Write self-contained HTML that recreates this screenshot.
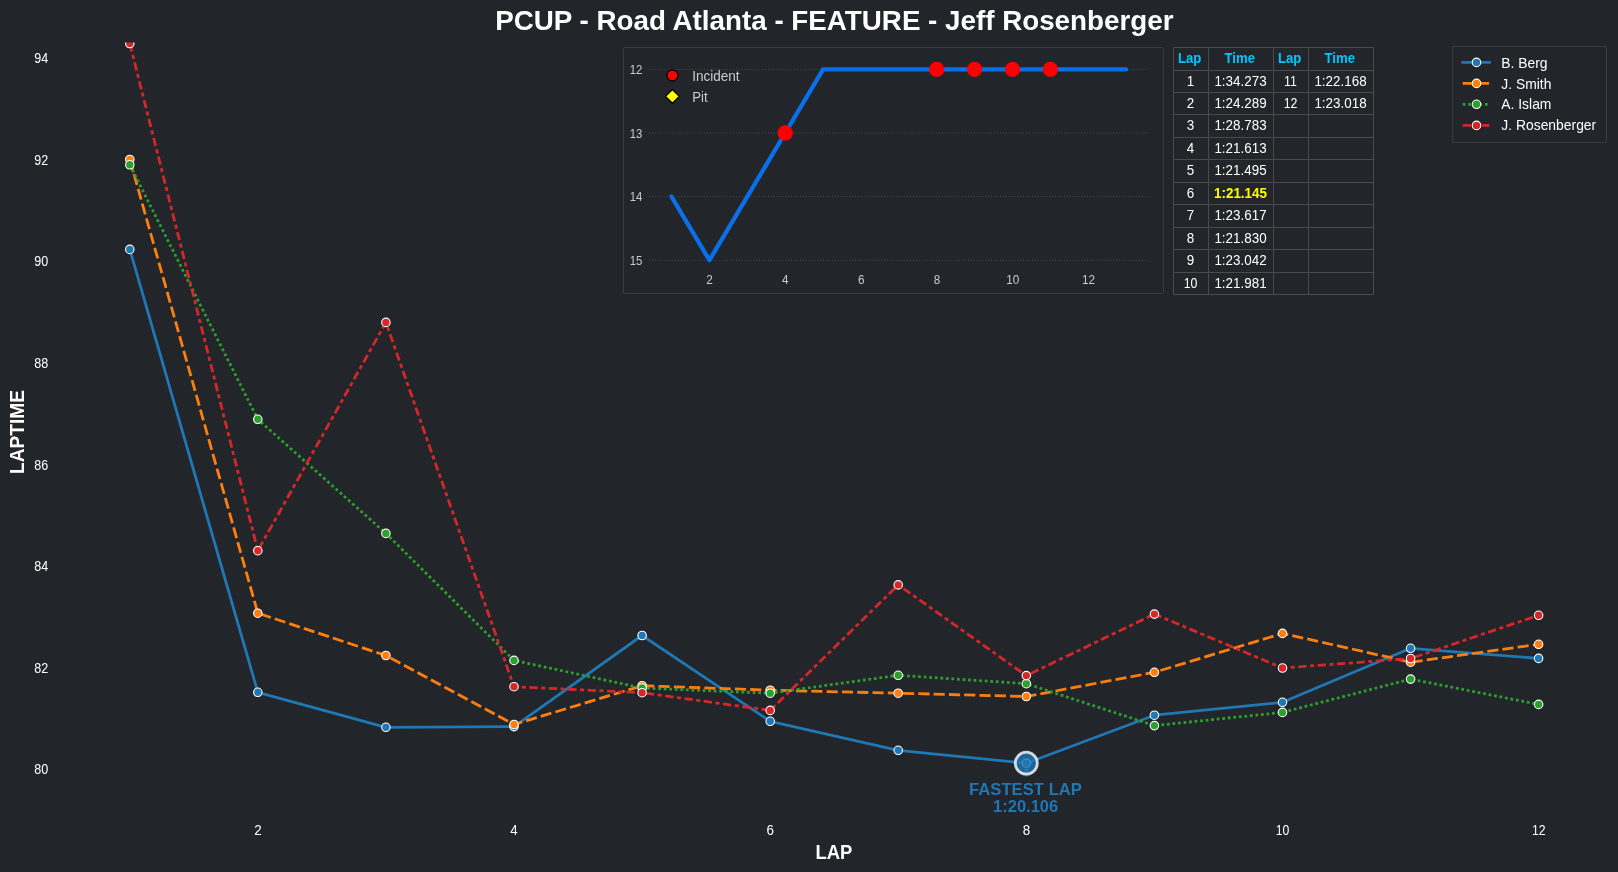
<!DOCTYPE html>
<html><head><meta charset="utf-8"><title>PCUP - Road Atlanta - FEATURE - Jeff Rosenberger</title>
<style>
html,body{margin:0;padding:0;background:#22252a;}
body{width:1618px;height:872px;overflow:hidden;font-family:"Liberation Sans",sans-serif;}
svg{display:block;will-change:transform;}
text{font-family:"Liberation Sans",sans-serif;}
</style></head><body>
<svg width="1618" height="872" viewBox="0 0 1618 872">
<rect x="0" y="0" width="1618" height="872" fill="#22252a"/>
<defs><clipPath id="ax"><rect x="59" y="42.6" width="1549.7" height="776.8"/></clipPath></defs>

<text transform="translate(834.30,30.00)" font-size="27.78" text-anchor="middle" fill="#ffffff" font-weight="bold">PCUP - Road Atlanta - FEATURE - Jeff Rosenberger</text>
<text transform="translate(833.90,859.00) scale(0.950,1.000)" font-size="19.44" text-anchor="middle" fill="#ffffff" font-weight="bold">LAP</text>
<text transform="translate(24.30,432.00) rotate(-90) scale(0.984,1.000)" font-size="19.44" text-anchor="middle" fill="#ffffff" font-weight="bold">LAPTIME</text>
<text transform="translate(48.20,774.00) scale(0.905,1.120)" font-size="13.89" text-anchor="end" fill="#ffffff">80</text>
<text transform="translate(48.20,673.00) scale(0.905,1.120)" font-size="13.89" text-anchor="end" fill="#ffffff">82</text>
<text transform="translate(48.20,571.00) scale(0.905,1.120)" font-size="13.89" text-anchor="end" fill="#ffffff">84</text>
<text transform="translate(48.20,470.00) scale(0.905,1.120)" font-size="13.89" text-anchor="end" fill="#ffffff">86</text>
<text transform="translate(48.20,368.00) scale(0.905,1.120)" font-size="13.89" text-anchor="end" fill="#ffffff">88</text>
<text transform="translate(48.20,266.00) scale(0.905,1.120)" font-size="13.89" text-anchor="end" fill="#ffffff">90</text>
<text transform="translate(48.20,165.00) scale(0.905,1.120)" font-size="13.89" text-anchor="end" fill="#ffffff">92</text>
<text transform="translate(48.20,63.00) scale(0.905,1.120)" font-size="13.89" text-anchor="end" fill="#ffffff">94</text>
<text transform="translate(257.93,835.00) scale(0.965,1.120)" font-size="13.89" text-anchor="middle" fill="#ffffff">2</text>
<text transform="translate(514.09,835.00) scale(0.965,1.120)" font-size="13.89" text-anchor="middle" fill="#ffffff">4</text>
<text transform="translate(770.25,835.00) scale(0.965,1.120)" font-size="13.89" text-anchor="middle" fill="#ffffff">6</text>
<text transform="translate(1026.41,835.00) scale(0.965,1.120)" font-size="13.89" text-anchor="middle" fill="#ffffff">8</text>
<text transform="translate(1282.57,835.00) scale(0.880,1.120)" font-size="13.89" text-anchor="middle" fill="#ffffff">10</text>
<text transform="translate(1538.73,835.00) scale(0.880,1.120)" font-size="13.89" text-anchor="middle" fill="#ffffff">12</text>
<g clip-path="url(#ax)">
<polyline points="129.8,249.4 257.8,692.3 385.9,727.3 514.0,726.6 642.1,635.5 770.2,721.3 898.2,750.3 1026.3,763.2 1154.4,715.2 1282.5,702.3 1410.6,648.3 1538.6,658.4" fill="none" stroke="#1f77b4" stroke-width="2.78" stroke-linejoin="round" stroke-linecap="square"/>
<circle cx="129.8" cy="249.4" r="4.25" fill="#1f77b4" stroke="#ffffff" stroke-width="1.10"/>
<circle cx="257.8" cy="692.3" r="4.25" fill="#1f77b4" stroke="#ffffff" stroke-width="1.10"/>
<circle cx="385.9" cy="727.3" r="4.25" fill="#1f77b4" stroke="#ffffff" stroke-width="1.10"/>
<circle cx="514.0" cy="726.6" r="4.25" fill="#1f77b4" stroke="#ffffff" stroke-width="1.10"/>
<circle cx="642.1" cy="635.5" r="4.25" fill="#1f77b4" stroke="#ffffff" stroke-width="1.10"/>
<circle cx="770.2" cy="721.3" r="4.25" fill="#1f77b4" stroke="#ffffff" stroke-width="1.10"/>
<circle cx="898.2" cy="750.3" r="4.25" fill="#1f77b4" stroke="#ffffff" stroke-width="1.10"/>
<circle cx="1026.3" cy="763.2" r="4.25" fill="#1f77b4" stroke="#ffffff" stroke-width="1.10"/>
<circle cx="1154.4" cy="715.2" r="4.25" fill="#1f77b4" stroke="#ffffff" stroke-width="1.10"/>
<circle cx="1282.5" cy="702.3" r="4.25" fill="#1f77b4" stroke="#ffffff" stroke-width="1.10"/>
<circle cx="1410.6" cy="648.3" r="4.25" fill="#1f77b4" stroke="#ffffff" stroke-width="1.10"/>
<circle cx="1538.6" cy="658.4" r="4.25" fill="#1f77b4" stroke="#ffffff" stroke-width="1.10"/>
<polyline points="129.8,159.5 257.8,613.2 385.9,655.5 514.0,724.5 642.1,685.7 770.2,690.2 898.2,693.2 1026.3,696.5 1154.4,672.3 1282.5,633.4 1410.6,662.2 1538.6,644.3" fill="none" stroke="#ff7f0e" stroke-width="2.78" stroke-linejoin="round" stroke-dasharray="11.12,4.17"/>
<circle cx="129.8" cy="159.5" r="4.25" fill="#ff7f0e" stroke="#ffffff" stroke-width="1.10"/>
<circle cx="257.8" cy="613.2" r="4.25" fill="#ff7f0e" stroke="#ffffff" stroke-width="1.10"/>
<circle cx="385.9" cy="655.5" r="4.25" fill="#ff7f0e" stroke="#ffffff" stroke-width="1.10"/>
<circle cx="514.0" cy="724.5" r="4.25" fill="#ff7f0e" stroke="#ffffff" stroke-width="1.10"/>
<circle cx="642.1" cy="685.7" r="4.25" fill="#ff7f0e" stroke="#ffffff" stroke-width="1.10"/>
<circle cx="770.2" cy="690.2" r="4.25" fill="#ff7f0e" stroke="#ffffff" stroke-width="1.10"/>
<circle cx="898.2" cy="693.2" r="4.25" fill="#ff7f0e" stroke="#ffffff" stroke-width="1.10"/>
<circle cx="1026.3" cy="696.5" r="4.25" fill="#ff7f0e" stroke="#ffffff" stroke-width="1.10"/>
<circle cx="1154.4" cy="672.3" r="4.25" fill="#ff7f0e" stroke="#ffffff" stroke-width="1.10"/>
<circle cx="1282.5" cy="633.4" r="4.25" fill="#ff7f0e" stroke="#ffffff" stroke-width="1.10"/>
<circle cx="1410.6" cy="662.2" r="4.25" fill="#ff7f0e" stroke="#ffffff" stroke-width="1.10"/>
<circle cx="1538.6" cy="644.3" r="4.25" fill="#ff7f0e" stroke="#ffffff" stroke-width="1.10"/>
<polyline points="129.8,164.8 257.8,419.3 385.9,533.4 514.0,660.4 642.1,688.0 770.2,693.2 898.2,675.3 1026.3,683.7 1154.4,725.6 1282.5,712.4 1410.6,679.1 1538.6,704.4" fill="none" stroke="#2ca02c" stroke-width="2.78" stroke-linejoin="round" stroke-dasharray="2.78,2.78"/>
<circle cx="129.8" cy="164.8" r="4.25" fill="#2ca02c" stroke="#ffffff" stroke-width="1.10"/>
<circle cx="257.8" cy="419.3" r="4.25" fill="#2ca02c" stroke="#ffffff" stroke-width="1.10"/>
<circle cx="385.9" cy="533.4" r="4.25" fill="#2ca02c" stroke="#ffffff" stroke-width="1.10"/>
<circle cx="514.0" cy="660.4" r="4.25" fill="#2ca02c" stroke="#ffffff" stroke-width="1.10"/>
<circle cx="642.1" cy="688.0" r="4.25" fill="#2ca02c" stroke="#ffffff" stroke-width="1.10"/>
<circle cx="770.2" cy="693.2" r="4.25" fill="#2ca02c" stroke="#ffffff" stroke-width="1.10"/>
<circle cx="898.2" cy="675.3" r="4.25" fill="#2ca02c" stroke="#ffffff" stroke-width="1.10"/>
<circle cx="1026.3" cy="683.7" r="4.25" fill="#2ca02c" stroke="#ffffff" stroke-width="1.10"/>
<circle cx="1154.4" cy="725.6" r="4.25" fill="#2ca02c" stroke="#ffffff" stroke-width="1.10"/>
<circle cx="1282.5" cy="712.4" r="4.25" fill="#2ca02c" stroke="#ffffff" stroke-width="1.10"/>
<circle cx="1410.6" cy="679.1" r="4.25" fill="#2ca02c" stroke="#ffffff" stroke-width="1.10"/>
<circle cx="1538.6" cy="704.4" r="4.25" fill="#2ca02c" stroke="#ffffff" stroke-width="1.10"/>
<polyline points="129.8,43.5 257.8,550.7 385.9,322.4 514.0,686.7 642.1,692.7 770.2,710.4 898.2,584.9 1026.3,675.6 1154.4,614.1 1282.5,668.0 1410.6,658.5 1538.6,615.3" fill="none" stroke="#d62728" stroke-width="2.78" stroke-linejoin="round" stroke-dasharray="8.34,3.47,4.17,3.47"/>
<circle cx="129.8" cy="43.5" r="4.25" fill="#d62728" stroke="#ffffff" stroke-width="1.10"/>
<circle cx="257.8" cy="550.7" r="4.25" fill="#d62728" stroke="#ffffff" stroke-width="1.10"/>
<circle cx="385.9" cy="322.4" r="4.25" fill="#d62728" stroke="#ffffff" stroke-width="1.10"/>
<circle cx="514.0" cy="686.7" r="4.25" fill="#d62728" stroke="#ffffff" stroke-width="1.10"/>
<circle cx="642.1" cy="692.7" r="4.25" fill="#d62728" stroke="#ffffff" stroke-width="1.10"/>
<circle cx="770.2" cy="710.4" r="4.25" fill="#d62728" stroke="#ffffff" stroke-width="1.10"/>
<circle cx="898.2" cy="584.9" r="4.25" fill="#d62728" stroke="#ffffff" stroke-width="1.10"/>
<circle cx="1026.3" cy="675.6" r="4.25" fill="#d62728" stroke="#ffffff" stroke-width="1.10"/>
<circle cx="1154.4" cy="614.1" r="4.25" fill="#d62728" stroke="#ffffff" stroke-width="1.10"/>
<circle cx="1282.5" cy="668.0" r="4.25" fill="#d62728" stroke="#ffffff" stroke-width="1.10"/>
<circle cx="1410.6" cy="658.5" r="4.25" fill="#d62728" stroke="#ffffff" stroke-width="1.10"/>
<circle cx="1538.6" cy="615.3" r="4.25" fill="#d62728" stroke="#ffffff" stroke-width="1.10"/>
<path d="M1026.3 776.7 L1026.3 770.2" stroke="#1f77b4" stroke-width="1.4" fill="none"/>
<path d="M1026.3 766.4 l-2.5 5.2 h5 z" fill="#1f77b4"/>
<circle cx="1026.3" cy="763.2" r="11" fill="#1f77b4" fill-opacity="0.8" stroke="#ffffff" stroke-opacity="0.8" stroke-width="2.8"/>
</g>
<text transform="translate(1025.50,795.00)" font-size="16.67" text-anchor="middle" fill="#1f77b4" font-weight="bold">FASTEST LAP</text>
<text transform="translate(1025.60,812.30) scale(0.990,1.000)" font-size="16.67" text-anchor="middle" fill="#1f77b4" font-weight="bold">1:20.106</text>
<rect x="1452.5" y="46.5" width="154" height="96" fill="#22252a" stroke="#393d40" stroke-width="1" rx="1.5"/>
<line x1="1462.7" y1="62.4" x2="1489.4" y2="62.4" stroke="#1f77b4" stroke-width="2.78" stroke-linecap="square"/>
<circle cx="1476.5" cy="62.4" r="4.25" fill="#1f77b4" stroke="#ffffff" stroke-width="1.10"/>
<text transform="translate(1501.30,68.00) scale(1.000,1.120)" font-size="13.89" text-anchor="start" fill="#ffffff">B. Berg</text>
<line x1="1462.7" y1="83.4" x2="1489.4" y2="83.4" stroke="#ff7f0e" stroke-width="2.78" stroke-dasharray="11.12,4.17"/>
<circle cx="1476.5" cy="83.4" r="4.25" fill="#ff7f0e" stroke="#ffffff" stroke-width="1.10"/>
<text transform="translate(1501.30,88.90) scale(1.000,1.120)" font-size="13.89" text-anchor="start" fill="#ffffff">J. Smith</text>
<line x1="1462.7" y1="104.3" x2="1489.4" y2="104.3" stroke="#2ca02c" stroke-width="2.78" stroke-dasharray="2.78,2.78"/>
<circle cx="1476.5" cy="104.3" r="4.25" fill="#2ca02c" stroke="#ffffff" stroke-width="1.10"/>
<text transform="translate(1501.30,109.20) scale(1.000,1.120)" font-size="13.89" text-anchor="start" fill="#ffffff">A. Islam</text>
<line x1="1462.7" y1="125.4" x2="1489.4" y2="125.4" stroke="#d62728" stroke-width="2.78" stroke-dasharray="8.34,3.47,4.17,3.47"/>
<circle cx="1476.5" cy="125.4" r="4.25" fill="#d62728" stroke="#ffffff" stroke-width="1.10"/>
<text transform="translate(1501.30,130.30) scale(1.000,1.120)" font-size="13.89" text-anchor="start" fill="#ffffff">J. Rosenberger</text>
<rect x="623.5" y="47.5" width="540" height="246" fill="#22252a" stroke="#393d40" stroke-width="1" rx="1.5"/>
<line x1="649" y1="69.4" x2="1148.5" y2="69.4" stroke="#45484d" stroke-width="1" stroke-dasharray="1.1,1.8"/>
<text transform="translate(642.30,73.90) scale(0.930,1.030)" font-size="12.20" text-anchor="end" fill="#cccccc">12</text>
<line x1="649" y1="133.0" x2="1148.5" y2="133.0" stroke="#45484d" stroke-width="1" stroke-dasharray="1.1,1.8"/>
<text transform="translate(642.30,137.50) scale(0.930,1.030)" font-size="12.20" text-anchor="end" fill="#cccccc">13</text>
<line x1="649" y1="196.6" x2="1148.5" y2="196.6" stroke="#45484d" stroke-width="1" stroke-dasharray="1.1,1.8"/>
<text transform="translate(642.30,201.10) scale(0.930,1.030)" font-size="12.20" text-anchor="end" fill="#cccccc">14</text>
<line x1="649" y1="260.2" x2="1148.5" y2="260.2" stroke="#45484d" stroke-width="1" stroke-dasharray="1.1,1.8"/>
<text transform="translate(642.30,264.70) scale(0.930,1.030)" font-size="12.20" text-anchor="end" fill="#cccccc">15</text>
<text transform="translate(709.59,284.00) scale(0.960,1.030)" font-size="12.20" text-anchor="middle" fill="#cccccc">2</text>
<text transform="translate(785.37,284.00) scale(0.960,1.030)" font-size="12.20" text-anchor="middle" fill="#cccccc">4</text>
<text transform="translate(861.15,284.00) scale(0.960,1.030)" font-size="12.20" text-anchor="middle" fill="#cccccc">6</text>
<text transform="translate(936.93,284.00) scale(0.960,1.030)" font-size="12.20" text-anchor="middle" fill="#cccccc">8</text>
<text transform="translate(1012.71,284.00) scale(0.960,1.030)" font-size="12.20" text-anchor="middle" fill="#cccccc">10</text>
<text transform="translate(1088.49,284.00) scale(0.960,1.030)" font-size="12.20" text-anchor="middle" fill="#cccccc">12</text>
<polyline points="671.5,196.6 709.4,260.2 747.3,196.6 785.2,133.0 823.1,69.4 861.0,69.4 898.8,69.4 936.7,69.4 974.6,69.4 1012.5,69.4 1050.4,69.4 1088.3,69.4 1126.2,69.4" fill="none" stroke="#0a6fe8" stroke-width="4.3" stroke-linejoin="round" stroke-linecap="round"/>
<circle cx="785.2" cy="133.0" r="7.7" fill="#ff0000"/>
<circle cx="936.7" cy="69.4" r="7.7" fill="#ff0000"/>
<circle cx="974.6" cy="69.4" r="7.7" fill="#ff0000"/>
<circle cx="1012.5" cy="69.4" r="7.7" fill="#ff0000"/>
<circle cx="1050.4" cy="69.4" r="7.7" fill="#ff0000"/>
<circle cx="672.4" cy="75.5" r="5.5" fill="#ff0000" stroke="#000000" stroke-width="1.3"/>
<path d="M672.4 89.5 l6.9 6.9 l-6.9 6.9 l-6.9 -6.9 z" fill="#ffff00" stroke="#000000" stroke-width="1.3" stroke-linejoin="miter"/>
<text transform="translate(692.20,81.00) scale(0.975,1.120)" font-size="13.89" text-anchor="start" fill="#cccccc">Incident</text>
<text transform="translate(692.20,101.90) scale(0.950,1.120)" font-size="13.89" text-anchor="start" fill="#cccccc">Pit</text>
<line x1="1173.5" y1="47.5" x2="1173.5" y2="294.5" stroke="#4a4a4a" stroke-width="1"/>
<line x1="1208.5" y1="47.5" x2="1208.5" y2="294.5" stroke="#4a4a4a" stroke-width="1"/>
<line x1="1273.5" y1="47.5" x2="1273.5" y2="294.5" stroke="#4a4a4a" stroke-width="1"/>
<line x1="1308.5" y1="47.5" x2="1308.5" y2="294.5" stroke="#4a4a4a" stroke-width="1"/>
<line x1="1373.5" y1="47.5" x2="1373.5" y2="294.5" stroke="#4a4a4a" stroke-width="1"/>
<line x1="1173.5" y1="47.5" x2="1373.5" y2="47.5" stroke="#4a4a4a" stroke-width="1"/>
<line x1="1173.5" y1="70.5" x2="1373.5" y2="70.5" stroke="#4a4a4a" stroke-width="1"/>
<line x1="1173.5" y1="92.5" x2="1373.5" y2="92.5" stroke="#4a4a4a" stroke-width="1"/>
<line x1="1173.5" y1="114.5" x2="1373.5" y2="114.5" stroke="#4a4a4a" stroke-width="1"/>
<line x1="1173.5" y1="137.5" x2="1373.5" y2="137.5" stroke="#4a4a4a" stroke-width="1"/>
<line x1="1173.5" y1="159.5" x2="1373.5" y2="159.5" stroke="#4a4a4a" stroke-width="1"/>
<line x1="1173.5" y1="182.5" x2="1373.5" y2="182.5" stroke="#4a4a4a" stroke-width="1"/>
<line x1="1173.5" y1="204.5" x2="1373.5" y2="204.5" stroke="#4a4a4a" stroke-width="1"/>
<line x1="1173.5" y1="227.5" x2="1373.5" y2="227.5" stroke="#4a4a4a" stroke-width="1"/>
<line x1="1173.5" y1="249.5" x2="1373.5" y2="249.5" stroke="#4a4a4a" stroke-width="1"/>
<line x1="1173.5" y1="272.5" x2="1373.5" y2="272.5" stroke="#4a4a4a" stroke-width="1"/>
<line x1="1173.5" y1="294.5" x2="1373.5" y2="294.5" stroke="#4a4a4a" stroke-width="1"/>
<text transform="translate(1189.70,62.50) scale(0.950,1.120)" font-size="13.89" text-anchor="middle" fill="#00c8ff" font-weight="bold">Lap</text>
<text transform="translate(1239.70,62.50) scale(0.950,1.120)" font-size="13.89" text-anchor="middle" fill="#00c8ff" font-weight="bold">Time</text>
<text transform="translate(1289.70,62.50) scale(0.950,1.120)" font-size="13.89" text-anchor="middle" fill="#00c8ff" font-weight="bold">Lap</text>
<text transform="translate(1339.70,62.50) scale(0.950,1.120)" font-size="13.89" text-anchor="middle" fill="#00c8ff" font-weight="bold">Time</text>
<text transform="translate(1190.50,85.50) scale(0.965,1.120)" font-size="13.89" text-anchor="middle" fill="#ffffff">1</text>
<text transform="translate(1240.50,85.50) scale(0.965,1.120)" font-size="13.89" text-anchor="middle" fill="#ffffff">1:34.273</text>
<text transform="translate(1190.50,107.50) scale(0.965,1.120)" font-size="13.89" text-anchor="middle" fill="#ffffff">2</text>
<text transform="translate(1240.50,107.50) scale(0.965,1.120)" font-size="13.89" text-anchor="middle" fill="#ffffff">1:24.289</text>
<text transform="translate(1190.50,129.50) scale(0.965,1.120)" font-size="13.89" text-anchor="middle" fill="#ffffff">3</text>
<text transform="translate(1240.50,129.50) scale(0.965,1.120)" font-size="13.89" text-anchor="middle" fill="#ffffff">1:28.783</text>
<text transform="translate(1190.50,152.50) scale(0.965,1.120)" font-size="13.89" text-anchor="middle" fill="#ffffff">4</text>
<text transform="translate(1240.50,152.50) scale(0.965,1.120)" font-size="13.89" text-anchor="middle" fill="#ffffff">1:21.613</text>
<text transform="translate(1190.50,174.50) scale(0.965,1.120)" font-size="13.89" text-anchor="middle" fill="#ffffff">5</text>
<text transform="translate(1240.50,174.50) scale(0.965,1.120)" font-size="13.89" text-anchor="middle" fill="#ffffff">1:21.495</text>
<text transform="translate(1190.50,197.50) scale(0.965,1.120)" font-size="13.89" text-anchor="middle" fill="#ffffff">6</text>
<text transform="translate(1240.50,197.50) scale(0.965,1.120)" font-size="13.89" text-anchor="middle" fill="#ffff00" font-weight="bold">1:21.145</text>
<text transform="translate(1190.50,219.50) scale(0.965,1.120)" font-size="13.89" text-anchor="middle" fill="#ffffff">7</text>
<text transform="translate(1240.50,219.50) scale(0.965,1.120)" font-size="13.89" text-anchor="middle" fill="#ffffff">1:23.617</text>
<text transform="translate(1190.50,242.50) scale(0.965,1.120)" font-size="13.89" text-anchor="middle" fill="#ffffff">8</text>
<text transform="translate(1240.50,242.50) scale(0.965,1.120)" font-size="13.89" text-anchor="middle" fill="#ffffff">1:21.830</text>
<text transform="translate(1190.50,264.50) scale(0.965,1.120)" font-size="13.89" text-anchor="middle" fill="#ffffff">9</text>
<text transform="translate(1240.50,264.50) scale(0.965,1.120)" font-size="13.89" text-anchor="middle" fill="#ffffff">1:23.042</text>
<text transform="translate(1190.50,287.50) scale(0.890,1.120)" font-size="13.89" text-anchor="middle" fill="#ffffff">10</text>
<text transform="translate(1240.50,287.50) scale(0.965,1.120)" font-size="13.89" text-anchor="middle" fill="#ffffff">1:21.981</text>
<text transform="translate(1290.50,85.50) scale(0.890,1.120)" font-size="13.89" text-anchor="middle" fill="#ffffff">11</text>
<text transform="translate(1340.50,85.50) scale(0.965,1.120)" font-size="13.89" text-anchor="middle" fill="#ffffff">1:22.168</text>
<text transform="translate(1290.50,107.50) scale(0.890,1.120)" font-size="13.89" text-anchor="middle" fill="#ffffff">12</text>
<text transform="translate(1340.50,107.50) scale(0.965,1.120)" font-size="13.89" text-anchor="middle" fill="#ffffff">1:23.018</text>
</svg></body></html>
